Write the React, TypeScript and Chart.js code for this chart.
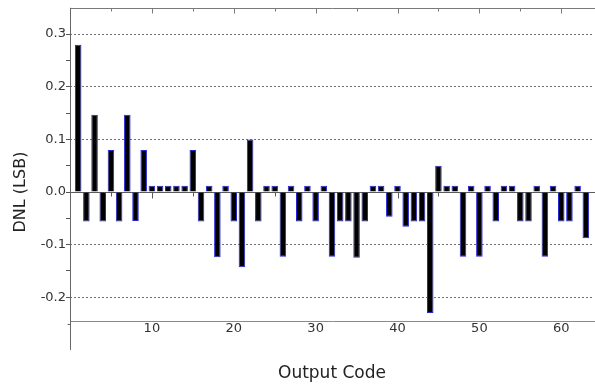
import React, { useEffect, useRef } from 'react';
import { Chart, registerables } from 'chart.js';

Chart.register(...registerables);

// Output codes (categories)
const outputCodes = [
  1, 2, 3, 4, 5, 6, 7, 8, 9, 10,
  11, 12, 13, 14, 15, 16, 17, 18, 19, 20,
  21, 22, 23, 24, 25, 26, 27, 28, 29, 30,
  31, 32, 33, 34, 35, 36, 37, 38, 39, 40,
  41, 42, 43, 44, 45, 46, 47, 48, 49, 50,
  51, 52, 53, 54, 55, 56, 57, 58, 59, 60,
  61, 62, 63,
];

// DNL in LSB
const dnlValues = [
  0.28, -0.056, 0.147, -0.056, 0.08, -0.056, 0.147, -0.055, 0.08, 0.012,
  0.012, 0.012, 0.012, 0.012, 0.08, -0.056, 0.012, -0.124, 0.012, -0.056,
  -0.143, 0.1, -0.056, 0.012, 0.012, -0.123, 0.012, -0.056, 0.012, -0.056,
  0.012, -0.123, -0.056, -0.056, -0.125, -0.056, 0.012, 0.012, -0.047, 0.012,
  -0.066, -0.056, -0.056, -0.23, 0.05, 0.012, 0.012, -0.123, 0.012, -0.123,
  0.012, -0.056, 0.012, 0.012, -0.056, -0.056, 0.012, -0.123, 0.012, -0.056,
  -0.056, 0.012, -0.088,
];

const xTickValues = [10, 20, 30, 40, 50, 60];
const xMarkValues = [5, 10, 15, 20, 25, 30, 35, 40, 45, 50, 55, 60];
const yTickValues = [-0.2, -0.15, -0.1, -0.05, 0, 0.05, 0.1, 0.15, 0.2, 0.25, 0.3];
const xMin = 0;
const xMax = 64;
const yMin = -0.245;
const yMax = 0.35;
const yAxisTailValue = -0.3;
const yAxisTailTick = -0.25;

const xTitle = 'Output Code';
const yTitle = 'DNL (LSB)';

const FONT = '"DejaVu Sans", "Liberation Sans", Arial, sans-serif';

const isMajorY = (v: number) => Math.abs(v * 10 - Math.round(v * 10)) < 1e-6;

export default function App() {
  const canvasRef = useRef<HTMLCanvasElement>(null);

  useEffect(() => {
    const canvas = canvasRef.current;
    if (!canvas) return;

    const decor = {
      id: 'decor',
      beforeDatasetsDraw(chart: any) {
        const { ctx, chartArea: a, scales } = chart;
        const x = scales.x;
        const y = scales.y;
        ctx.save();
        ctx.lineWidth = 1;

        // zero line with downward marks
        const y0 = Math.round(y.getPixelForValue(0)) + 0.5;
        ctx.strokeStyle = '#5a5a5a';
        ctx.beginPath();
        ctx.moveTo(a.left, y0);
        ctx.lineTo(a.right + 1, y0);
        for (const v of xMarkValues) {
          const px = Math.round(x.getPixelForValue(v)) + 0.5;
          ctx.moveTo(px, y0);
          ctx.lineTo(px, y0 + (v % 10 === 0 ? 6 : 4));
        }
        ctx.stroke();

        // top border with downward marks
        const yt = Math.round(a.top) + 0.5;
        ctx.strokeStyle = '#7a7a7a';
        ctx.beginPath();
        ctx.moveTo(a.left, yt);
        ctx.lineTo(a.right + 1, yt);
        for (const v of xMarkValues) {
          const px = Math.round(x.getPixelForValue(v)) + 0.5;
          ctx.moveTo(px, yt);
          ctx.lineTo(px, yt + (v % 10 === 0 ? 5 : 3));
        }
        ctx.stroke();

        // left axis line, extended below the plot
        const xl = Math.round(a.left) + 0.5;
        const yTail = y.getPixelForValue(yAxisTailValue);
        ctx.strokeStyle = '#666666';
        ctx.beginPath();
        ctx.moveTo(xl, a.top);
        ctx.lineTo(xl, yTail);
        const yt25 = Math.round(y.getPixelForValue(yAxisTailTick)) + 0.5;
        ctx.moveTo(xl, yt25);
        ctx.lineTo(xl - 3, yt25);
        ctx.stroke();
        ctx.restore();
      },
      afterDraw(chart: any) {
        const { ctx, scales } = chart;
        const y = scales.y;
        ctx.save();
        ctx.translate(20.5, y.getPixelForValue(0));
        ctx.rotate(-Math.PI / 2);
        ctx.font = `16px ${FONT}`;
        ctx.fillStyle = '#222222';
        ctx.textAlign = 'center';
        ctx.textBaseline = 'middle';
        ctx.fillText(yTitle, 0, 0);
        ctx.restore();
      },
    };

    const chart = new Chart(canvas, {
      type: 'bar',
      data: {
        datasets: [
          {
            data: outputCodes.map((c, i) => ({ x: c, y: dnlValues[i] })),
            backgroundColor: '#000000',
            borderColor: '#2626d8',
            borderWidth: 1,
            barPercentage: 0.8,
            categoryPercentage: 1.0,
          },
        ],
      },
      options: {
        responsive: false,
        maintainAspectRatio: false,
        animation: false,
        devicePixelRatio: 1,
        layout: { padding: { top: 7, right: 1, left: 0, bottom: 0 } },
        plugins: {
          legend: { display: false },
          tooltip: { enabled: false },
        },
        scales: {
          x: {
            type: 'linear',
            offset: false,
            min: xMin,
            max: xMax,
            afterBuildTicks: (s: any) => {
              s.ticks = xTickValues.map((v) => ({ value: v }));
            },
            afterFit: (s: any) => {
              s.height = 65;
            },
            ticks: {
              autoSkip: false,
              maxRotation: 0,
              padding: 0,
              color: '#333333',
              font: { family: FONT, size: 13 },
              callback: (v: any) => String(v),
            },
            grid: { display: false, drawTicks: false, offset: false },
            border: { display: true, color: '#8a8a8a', width: 1 },
            title: {
              display: true,
              text: xTitle,
              color: '#222222',
              font: { family: FONT, size: 17 },
              padding: { top: 0, bottom: 2 },
            },
          },
          y: {
            type: 'linear',
            min: yMin,
            max: yMax,
            afterBuildTicks: (s: any) => {
              s.ticks = yTickValues.map((v) => ({ value: v }));
            },
            afterFit: (s: any) => {
              s.width = 70;
            },
            ticks: {
              padding: 0,
              color: '#333333',
              font: { family: FONT, size: 13 },
              callback: (v: any) => (isMajorY(Number(v)) ? Number(v).toFixed(1) : ''),
            },
            grid: {
              display: true,
              drawOnChartArea: true,
              drawTicks: true,
              tickLength: 4,
              tickColor: '#555555',
              color: (ctx: any) => {
                const v = ctx.tick ? ctx.tick.value : undefined;
                if (v === undefined || Math.abs(v) < 1e-9) return 'rgba(0,0,0,0)';
                return isMajorY(v) ? '#707070' : 'rgba(0,0,0,0)';
              },
            },
            border: { display: false, dash: [2, 2] },
          },
        },
      },
      plugins: [decor],
    });

    return () => chart.destroy();
  }, []);

  return (
    <div style={{ position: 'fixed', left: 0, top: 0, width: 595, height: 386, background: '#ffffff' }}>
      <canvas ref={canvasRef} width={595} height={386} style={{ display: 'block', width: 595, height: 386 }} />
    </div>
  );
}
